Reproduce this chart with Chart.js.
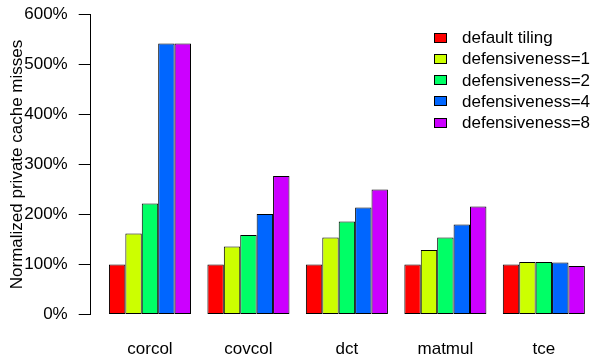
<!DOCTYPE html>
<html>
<head>
<meta charset="utf-8">
<script src="https://cdn.jsdelivr.net/npm/chart.js@4/dist/chart.umd.min.js"></script>
<style>
body{margin:0;background:#fff;font-family:"Liberation Sans",Arial,sans-serif}
#wrap{position:relative;width:598px;height:358px}
#legend{position:absolute;left:434px;top:27px;font-size:17px;color:#000}
#legend div{height:21.25px;line-height:21.25px;white-space:nowrap;position:relative}
#legend span.box{position:absolute;left:0;top:5.5px;width:11px;height:8px;border:1px solid #000}
#legend span.txt{position:absolute;left:28px;top:0}
</style>
</head>
<body>
<div id="wrap">
<canvas id="chart" width="598" height="358"></canvas>
<div id="legend"></div>
</div>
<script>
// benchmarks on the x axis
const benchmarks = ["corcol","covcol","dct","matmul","tce"]

// one series per tiling setting (percent of default)
const seriesNames = ["default tiling","defensiveness=1","defensiveness=2","defensiveness=4","defensiveness=8"]
const defaultTiling = [100,100,100,100,100]
const defensive1 = [162,136,154,129,105]
const defensive2 = [222,159,186,154,105]
const defensive4 = [542,201,214,180,104]
const defensive8 = [542,277,250,216,97]

const yTicks = [0,100,200,300,400,500,600]

const colors = ["#FF0000","#CCFF00","#00FF66","#0066FF","#CC00FF"]
const seriesValues = [defaultTiling,defensive1,defensive2,defensive4,defensive8]

const font = {family:"'Liberation Sans', Arial, sans-serif", size:17}

const ctx = document.getElementById("chart")

new Chart(ctx,{
type:'bar',
data:{
labels: benchmarks.map((_,i)=>i),
datasets: seriesValues.map((vals,k)=>({
label: seriesNames[k],
data: vals,
backgroundColor: colors[k],
borderColor: "#000",
borderWidth: 1,
borderSkipped: false,
categoryPercentage: 5/6,
barPercentage: 1
}))
},
options:{
responsive:false,
animation:false,
layout:{padding:{top:14.5,left:0,right:0,bottom:0}},
plugins:{
legend:{display:false},
tooltip:{enabled:false}
},
scales:{
x:{
type:'linear',
offset:false,
min:-0.602,
max:4.55,
afterBuildTicks: s => { s.ticks = benchmarks.map((_,i)=>({value:i})) },
afterFit: s => { s.height = 43.5; s.paddingLeft = 0; s.paddingRight = 0 },
ticks:{
color:"#000",
font: font,
padding: 25,
maxRotation: 0,
autoSkip: false,
callback: v => benchmarks[v]
},
grid:{display:false, drawTicks:false, offset:false},
border:{display:false}
},
y:{
min:0,
max:600,
afterBuildTicks: s => { s.ticks = yTicks.map(v=>({value:v})) },
afterFit: s => { s.width = 90.7; s.paddingTop = 0; s.paddingBottom = 0 },
ticks:{
color:"#000",
font: font,
padding: 11,
callback: v => v + "%"
},
grid:{
drawOnChartArea:false,
drawTicks:true,
tickLength:12,
color:"#000",
lineWidth:1
},
border:{display:true,color:"#000",width:1},
title:{
display:true,
text:"Normalized private cache misses",
color:"#000",
font: font,
padding:{top:7,bottom:0}
}
}
}
}
})

// legend built from the series names and colours
const legend = document.getElementById("legend")
seriesNames.forEach((name,k)=>{
const row = document.createElement("div")
const box = document.createElement("span")
box.className = "box"
box.style.background = colors[k]
const txt = document.createElement("span")
txt.className = "txt"
txt.textContent = name
row.appendChild(box)
row.appendChild(txt)
legend.appendChild(row)
})
</script>
</body>
</html>
